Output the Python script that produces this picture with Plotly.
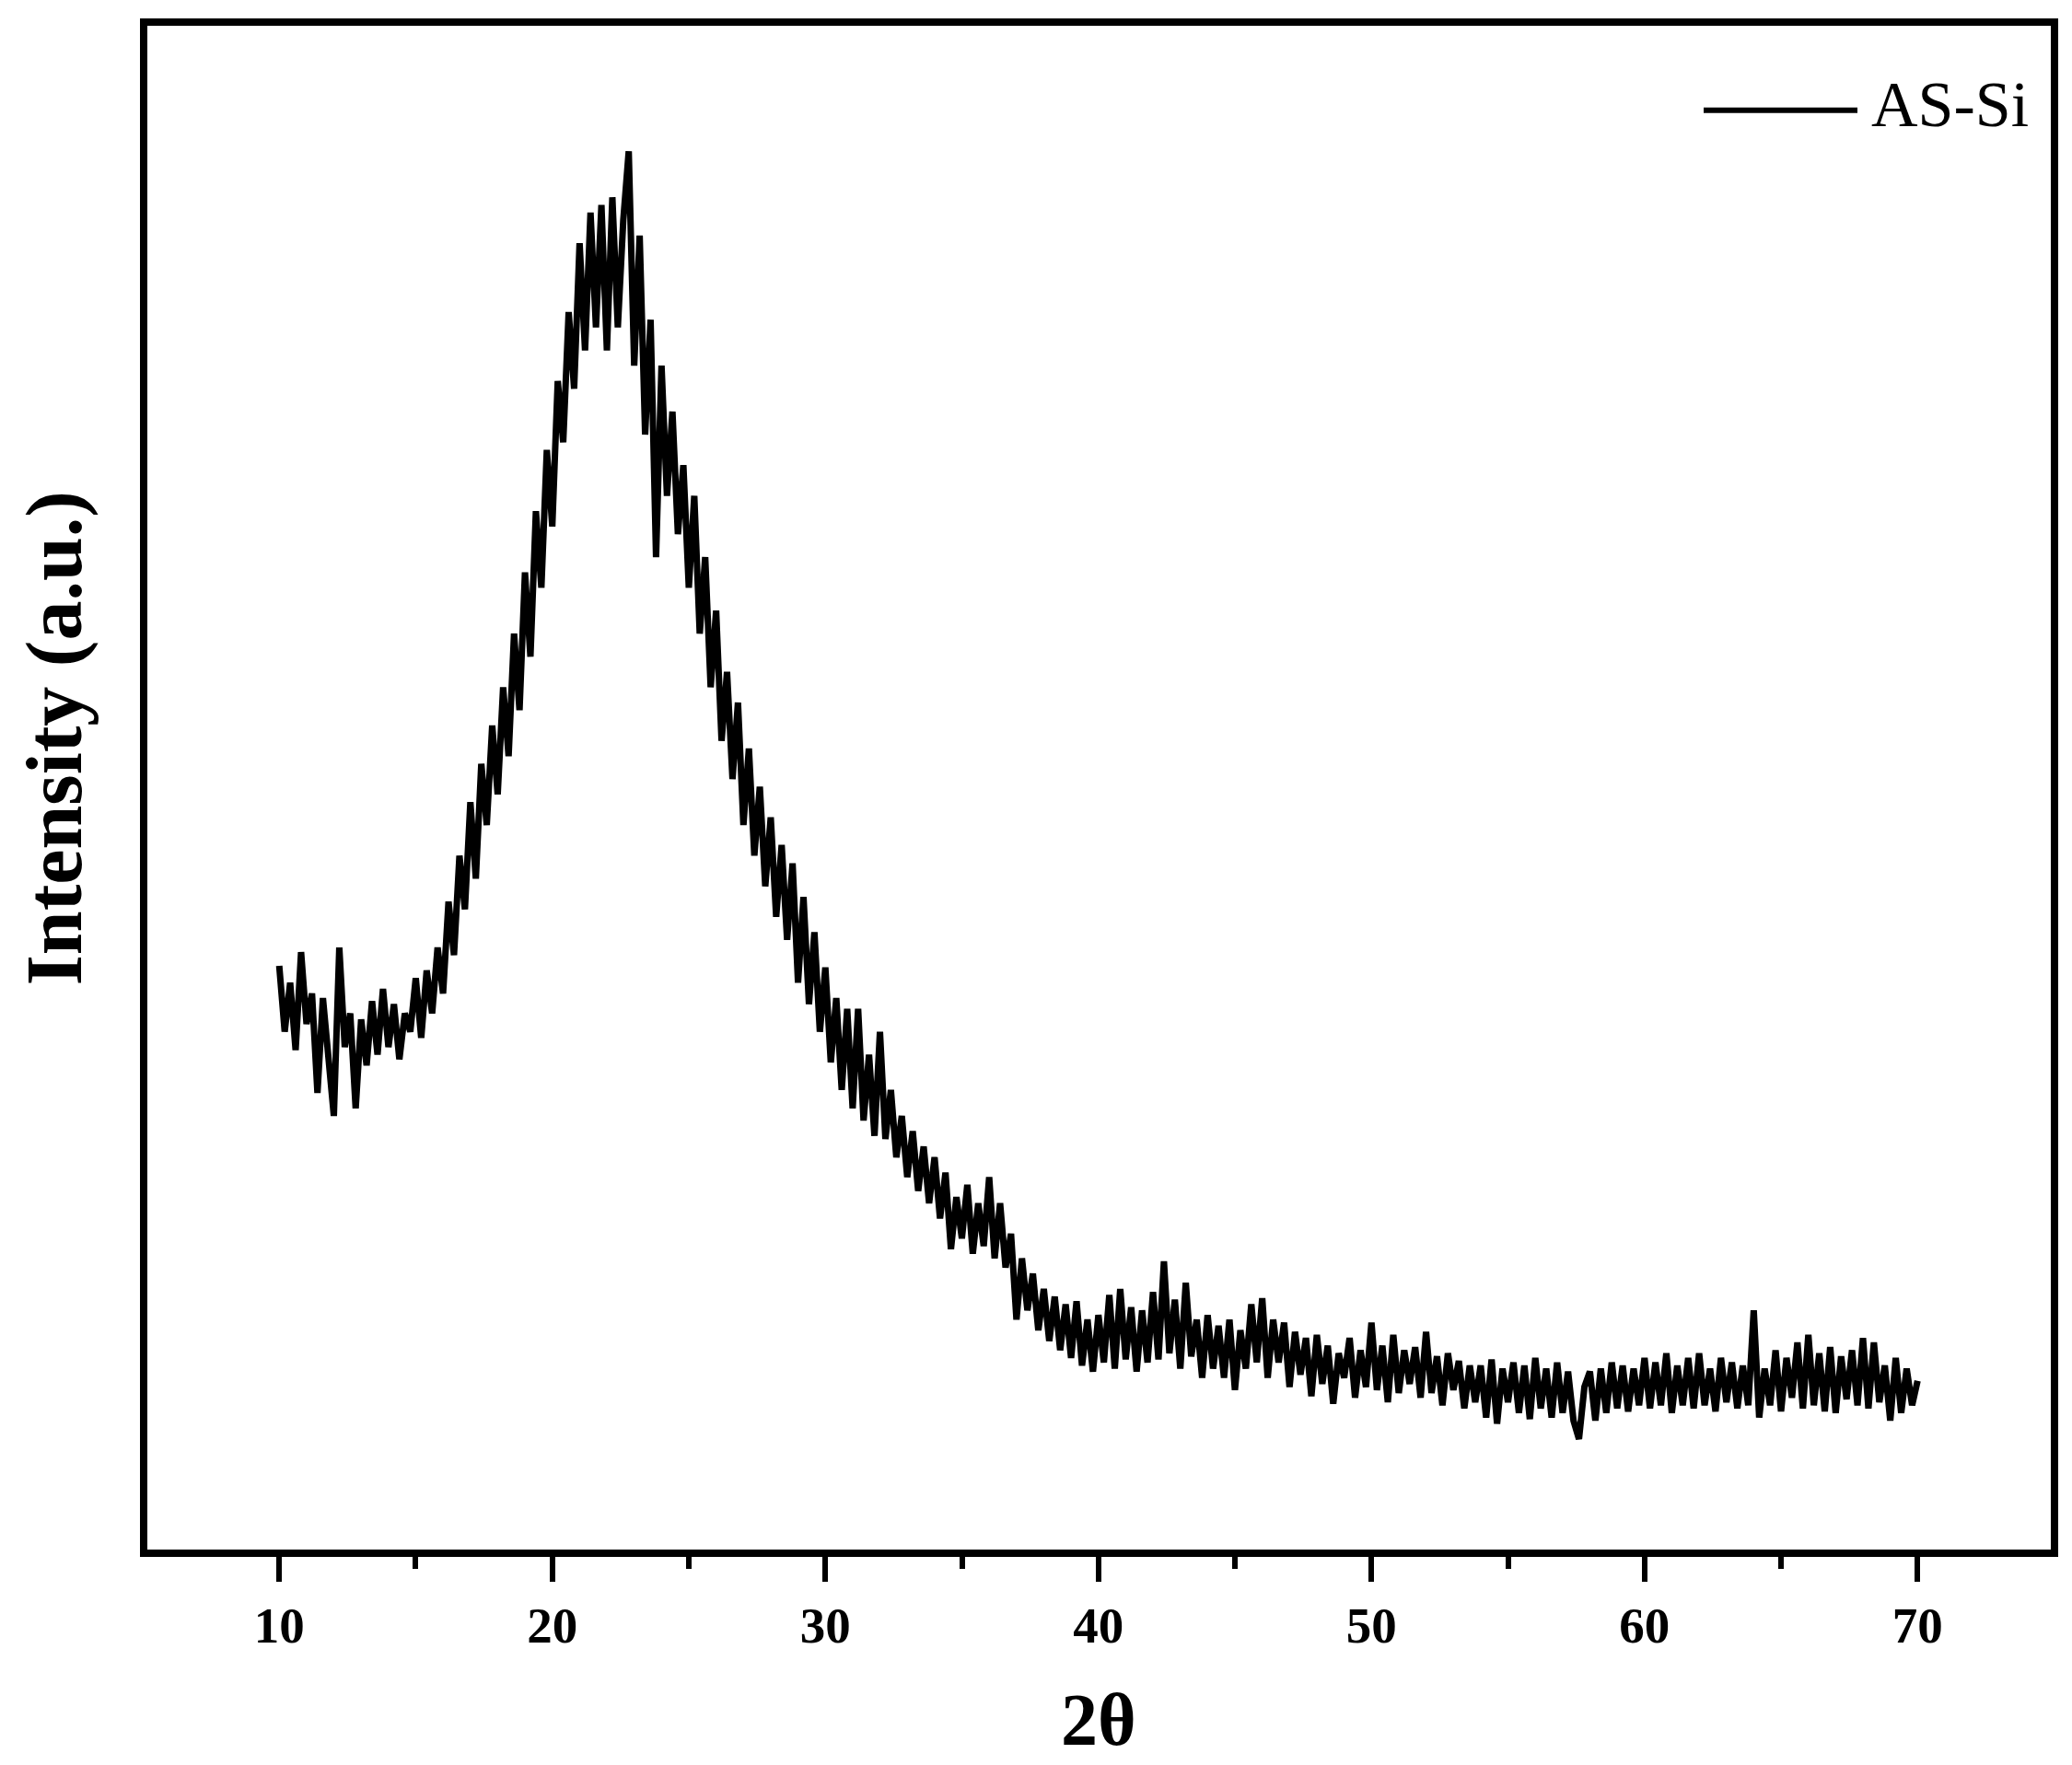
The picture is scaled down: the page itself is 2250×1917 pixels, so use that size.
import plotly.graph_objects as go

# ---- data ----
two_theta_start = 10.0
two_theta_step = 0.2
series_name = "AS-Si"
intensity = [
    # 10.0 - 11.8
    383, 340, 372, 328, 392, 345, 365, 300, 362, 318,
    # 12.0 - 13.8
    285, 395, 330, 352, 290, 348, 318, 360, 325, 368,
    # 14.0 - 15.8
    330, 358, 322, 352, 340, 375, 336, 380, 352, 395,
    # 16.0 - 17.8
    365, 425, 390, 455, 420, 490, 440, 515, 475, 540,
    # 18.0 - 19.8
    495, 565, 520, 600, 550, 640, 585, 680, 630, 720,
    # 20.0 - 21.8
    670, 765, 725, 810, 760, 855, 785, 875, 800, 880,
    # 22.0 - 23.8
    785, 885, 800, 870, 915, 775, 860, 730, 805, 650,
    # 24.0 - 25.8
    775, 690, 745, 665, 710, 630, 690, 600, 650, 565,
    # 26.0 - 27.8
    615, 530, 575, 505, 555, 475, 525, 455, 500, 435,
    # 28.0 - 29.8
    480, 415, 462, 400, 450, 372, 428, 358, 405, 340,
    # 30.0 - 31.8
    382, 320, 362, 302, 355, 290, 355, 282, 325, 272,
    # 32.0 - 33.8
    340, 270, 302, 258, 285, 245, 275, 236, 265, 228,
    # 34.0 - 35.8
    258, 218, 248, 198, 232, 205, 240, 195, 228, 200,
    # 36.0 - 37.8
    245, 192, 228, 186, 208, 152, 192, 158, 182, 145,
    # 38.0 - 39.8
    172, 138, 167, 132, 162, 127, 164, 122, 152, 118,
    # 40.0 - 41.8
    155, 124, 168, 120, 172, 126, 160, 118, 158, 124,
    # 42.0 - 43.8
    170, 126, 190, 130, 165, 120, 176, 128, 152, 114,
    # 44.0 - 45.8
    155, 120, 148, 114, 152, 106, 145, 120, 162, 124,
    # 46.0 - 47.8
    166, 114, 152, 124, 150, 108, 144, 116, 140, 102,
    # 48.0 - 49.8
    142, 110, 135, 97, 130, 114, 140, 101, 132, 108,
    # 50.0 - 51.8
    150, 106, 135, 98, 142, 104, 132, 110, 134, 101,
    # 52.0 - 53.8
    144, 104, 128, 96, 130, 106, 125, 94, 122, 98,
    # 54.0 - 55.8
    122, 88, 126, 84, 120, 98, 124, 91, 122, 87,
    # 56.0 - 57.8
    127, 94, 120, 88, 124, 91, 118, 86, 74, 108,
    # 58.0 - 59.8
    118, 86, 120, 91, 124, 94, 122, 92, 120, 96,
    # 60.0 - 61.8
    127, 94, 124, 96, 130, 91, 122, 96, 127, 94,
    # 62.0 - 63.8
    130, 96, 120, 92, 127, 98, 124, 94, 122, 96,
    # 64.0 - 65.8
    158, 88, 120, 96, 132, 92, 127, 101, 137, 94,
    # 66.0 - 67.8
    142, 96, 130, 92, 134, 91, 128, 100, 132, 96,
    # 68.0 - 69.8
    140, 94, 137, 98, 122, 86, 127, 91, 120, 96,
    # 70.0
    112,
]
two_theta = [round(two_theta_start + i * two_theta_step, 2) for i in range(len(intensity))]

major_ticks = [10, 20, 30, 40, 50, 60, 70]
major_labels = ["10", "20", "30", "40", "50", "60", "70"]
minor_ticks = [5, 15, 25, 35, 45, 55, 65, 75]

FONT = "Liberation Serif, Times New Roman, serif"

fig = go.Figure()
fig.add_trace(go.Scatter(
    x=two_theta, y=intensity, mode="lines", name=series_name,
    line=dict(color="black", width=7), showlegend=False,
))

W, H = 2250, 1917
OFF = 8  # page body margin
L, R, T, B = 152, 31, 17, 242
pw = W - L - R
ph = H - T - B

def px_x(sx):
    return (sx - OFF - L) / pw

def px_y(sy):
    return (H - B - (sy - OFF)) / ph

fig.update_layout(
    width=W, height=H,
    margin=dict(l=L, r=R, t=T, b=B),
    paper_bgcolor="white", plot_bgcolor="white",
    font=dict(family=FONT, color="black"),
    xaxis=dict(
        range=[5.17, 74.88],
        tickmode="array", tickvals=major_ticks, ticktext=major_labels,
        ticks="outside", ticklen=27, tickwidth=6, tickcolor="black",
        minor=dict(tickmode="array", tickvals=minor_ticks,
                   ticks="outside", ticklen=13, tickwidth=6, tickcolor="black"),
        showline=True, linewidth=8, linecolor="black", mirror=True,
        showgrid=False, zeroline=False,
        tickfont=dict(family=FONT, size=55, color="black", weight="bold"),
    ),
    yaxis=dict(
        range=[1.8, 997],
        showticklabels=False, ticks="",
        showline=True, linewidth=8, linecolor="black", mirror=True,
        showgrid=False, zeroline=False,
    ),
    shapes=[
        dict(type="line", xref="paper", yref="paper",
             x0=px_x(1850), x1=px_x(2017), y0=px_y(117), y1=px_y(117),
             line=dict(color="black", width=6)),
    ],
    annotations=[
        dict(text=series_name, xref="paper", yref="paper",
             x=px_x(2030), y=px_y(111), xanchor="left", yanchor="middle",
             showarrow=False, font=dict(family=FONT, size=70, color="black")),
        dict(text="<b>2θ</b>", xref="paper", yref="paper",
             x=px_x(1193), y=px_y(1868), xanchor="center", yanchor="middle",
             showarrow=False, font=dict(family=FONT, size=80, color="black")),
        dict(text="<b>Intensity (a.u.)</b>", xref="paper", yref="paper",
             x=px_x(59), y=px_y(800), xanchor="center", yanchor="middle",
             textangle=-90,
             showarrow=False, font=dict(family=FONT, size=86, color="black")),
    ],
)

fig.write_html("out.html")
